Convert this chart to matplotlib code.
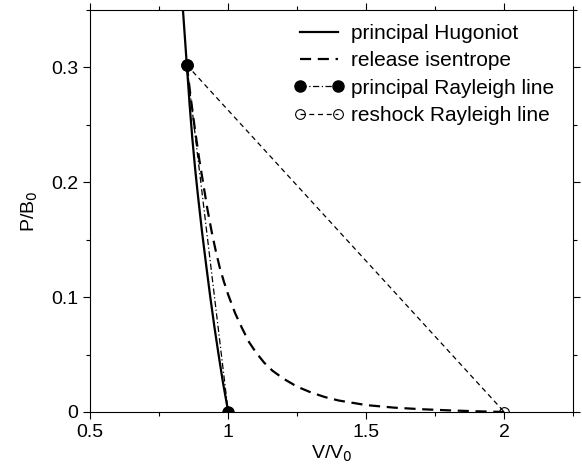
import matplotlib
matplotlib.use('Agg')
import matplotlib.pyplot as plt
from matplotlib.ticker import MultipleLocator

plt.rcParams['font.family'] = ['Liberation Sans', 'DejaVu Sans']

# principal Hugoniot
hug_v = [0.836, 0.85, 0.86, 0.87, 0.88, 0.89, 0.905, 0.92, 0.935, 0.95, 0.965, 0.98, 1.0]
hug_p = [0.35, 0.302, 0.268, 0.238, 0.212, 0.189, 0.157, 0.128, 0.100, 0.074, 0.050, 0.027, 0.0]

# release isentrope
rel_v = [0.85, 0.865, 0.88, 0.895, 0.91, 0.925, 0.94, 0.955, 0.97, 0.985, 1.00, 1.025, 1.05,
         1.075, 1.10, 1.13, 1.16, 1.20, 1.25, 1.30, 1.35, 1.40, 1.50, 1.60, 1.70, 1.80, 1.90, 2.00]
rel_p = [0.302, 0.272, 0.245, 0.220, 0.198, 0.176, 0.157, 0.140, 0.125, 0.113, 0.102, 0.086, 0.073,
         0.061, 0.052, 0.043, 0.036, 0.029, 0.022, 0.017, 0.013, 0.010, 0.006, 0.0038, 0.0024, 0.0014, 0.0006, 0.0]

# rayleigh lines
ray_v = [0.85, 1.0]
ray_p = [0.302, 0.0]
reshock_v = [0.85, 2.0]
reshock_p = [0.302, 0.0]

fig = plt.figure(figsize=(5.82, 4.73), dpi=100)
ax = fig.add_axes([0.155, 0.129, 0.83, 0.85])

ax.plot(hug_v, hug_p, 'k-', lw=1.6, label='principal Hugoniot')
ax.plot(rel_v, rel_p, 'k--', lw=1.6, dashes=(5, 3), label='release isentrope')
ax.plot(ray_v, ray_p, 'k-.', lw=0.9, marker='o', ms=8, mfc='k', mec='k',
        dashes=(5, 2, 1, 2), label='principal Rayleigh line')
ax.plot(reshock_v, reshock_p, 'k--', lw=0.9, marker='o', ms=7, mfc='none', mec='k',
        mew=0.8, dashes=(4, 3), label='reshock Rayleigh line')
# keep filled marker on top at the shock state
ax.plot(ray_v[:1], ray_p[:1], 'o', color='k', ms=8)

ax.set_xlim(0.5, 2.25)
ax.set_ylim(0, 0.35)
ax.xaxis.set_minor_locator(MultipleLocator(0.25))
ax.yaxis.set_minor_locator(MultipleLocator(0.05))
ax.set_xticks([0.5, 1, 1.5, 2])
ax.set_xticklabels(['0.5', '1', '1.5', '2'])
ax.set_yticks([0, 0.1, 0.2, 0.3])
ax.set_yticklabels(['0', '0.1', '0.2', '0.3'])
ax.tick_params(which='both', direction='out', top=True, right=True, labelsize=14, width=0.8)
ax.tick_params(which='major', length=5)
ax.tick_params(which='minor', length=3)

ax.set_xlabel('V/V$_0$', fontsize=14, labelpad=2)
ax.set_ylabel('P/B$_0$', fontsize=14, labelpad=8)

ax.legend(loc='upper right', frameon=False, fontsize=15, handlelength=2.4,
          numpoints=2, labelspacing=0.40, handletextpad=0.35,
          bbox_to_anchor=(1.0, 1.012))

fig.savefig('out.png', dpi=100)
